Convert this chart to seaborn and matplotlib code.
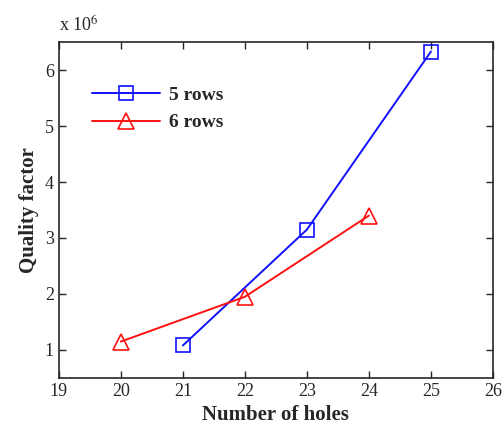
import matplotlib
matplotlib.use('Agg')
import matplotlib.pyplot as plt
import seaborn as sns
import pandas as pd

# values
holes_5 = [21, 23, 25]
q_5 = [1.08, 3.15, 6.33]
holes_6 = [20, 22, 24]
q_6 = [1.15, 1.95, 3.40]

sns.set_style('ticks')
plt.rcParams['font.family'] = ['Liberation Serif', 'DejaVu Serif']
plt.rcParams['mathtext.fontset'] = 'stix'

df = pd.concat([
    pd.DataFrame({'holes': holes_5, 'Q': q_5, 'series': '5 rows'}),
    pd.DataFrame({'holes': holes_6, 'Q': q_6, 'series': '6 rows'}),
])

colors = {'5 rows': '#1010ff', '6 rows': '#ff1010'}
msizes = {'5 rows': 9.5, '6 rows': 12}

fig = plt.figure(figsize=(5.03, 4.29), dpi=100)
ax = fig.add_axes([0.117, 0.119, 0.863, 0.783])

sns.lineplot(data=df, x='holes', y='Q', hue='series', style='series',
             palette=colors, markers={'5 rows': 's', '6 rows': '^'},
             dashes=False, markeredgewidth=1.2, linewidth=1.4, ax=ax)
# hollow markers with coloured edges
for line, name in zip(ax.lines[:2], ['5 rows', '6 rows']):
    line.set_markeredgecolor(colors[name])
    line.set_markerfacecolor('none')
    line.set_markersize(msizes[name])

ax.set_xlim(19, 26)
ax.set_ylim(0.5, 6.5)
ax.set_xticks(range(19, 27))
ax.set_yticks(range(1, 7))
ax.tick_params(direction='in', top=True, right=True, labelsize=13, length=5, width=1)
for s in ax.spines.values():
    s.set_linewidth(1.2)

ax.set_xlabel('Number of holes', fontsize=15, fontweight='bold')
ax.set_ylabel('Quality factor', fontsize=15, fontweight='bold')
ax.text(0.0, 1.03, r'x 10$^{6}$', transform=ax.transAxes, fontsize=13)

leg = ax.legend(loc='upper left', bbox_to_anchor=(0.035, 0.92), frameon=False,
                prop={'weight': 'bold', 'size': 14}, handlelength=3.5,
                handletextpad=0.5, labelspacing=0.5)
for h, name in zip(leg.legend_handles, ['5 rows', '6 rows']):
    h.set_markerfacecolor('none')
    h.set_markeredgecolor(colors[name])
    h.set_markersize(msizes[name])

fig.savefig('out.png', dpi=100)
